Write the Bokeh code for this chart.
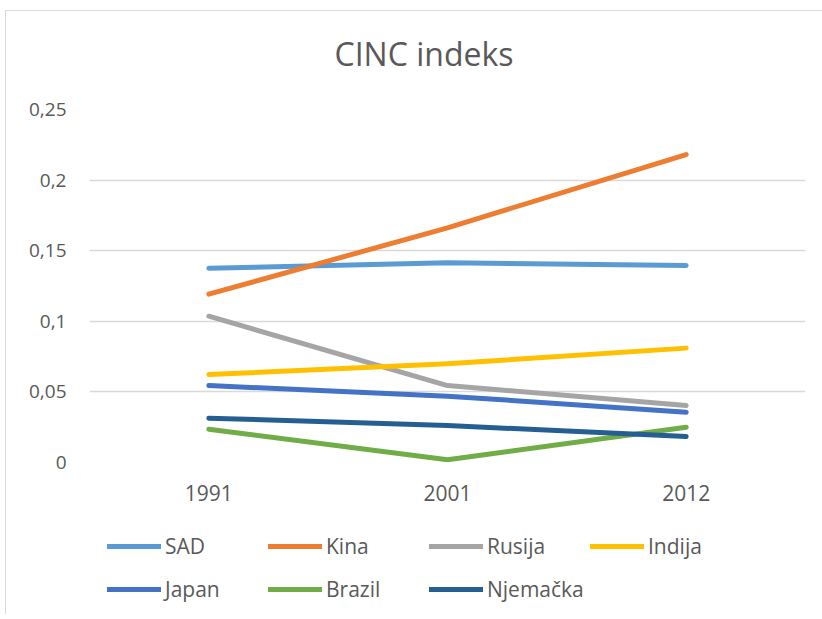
from bokeh.plotting import figure
from bokeh.models import FactorRange, Range1d, FixedTicker, Legend, LegendItem, Div
from bokeh.layouts import column
from bokeh.embed import file_html
from bokeh.resources import INLINE

title_text = "CINC indeks"
years = ["1991", "2001", "2012"]
series_names = ["SAD", "Kina", "Rusija", "Indija", "Japan", "Brazil", "Njemačka"]
sad = [0.1376, 0.1414, 0.1395]
kina = [0.1192, 0.1662, 0.2181]
rusija = [0.1036, 0.0545, 0.0404]
indija = [0.0623, 0.0699, 0.0810]
japan = [0.0545, 0.0470, 0.0356]
brazil = [0.0236, 0.0020, 0.0250]
njemacka = [0.0314, 0.0262, 0.0184]
colors = ["#5B9BD5", "#ED7D31", "#A5A5A5", "#FFC000", "#4472C4", "#70AD47", "#255E91"]
y_ticks = [0, 0.05, 0.1, 0.15, 0.2, 0.25]
y_tick_labels = ["0", "0,05", "0,1", "0,15", "0,2", "0,25"]

values = [sad, kina, rusija, indija, japan, brazil, njemacka]

FONT = "Open Sans"
TXT = "#595959"

title = Div(text=title_text, width=812, height=62,
            styles={"font-family": FONT, "font-size": "32px", "color": TXT,
                    "text-align": "center", "line-height": "48px",
                    "padding-top": "14px", "padding-left": "14px",
                    "box-sizing": "border-box", "white-space": "nowrap"})

p = figure(x_range=FactorRange(*years, range_padding=0), y_range=Range1d(0, 0.25),
           width=812, height=435, output_backend="svg", toolbar_location=None,
           min_border_left=83, min_border_right=13, min_border_top=26, min_border_bottom=56)
p.outline_line_color = None

p.xgrid.grid_line_color = None
p.ygrid.grid_line_color = "#d9d9d9"
p.ygrid.grid_line_width = 1.5
p.yaxis.ticker = FixedTicker(ticks=y_ticks)
p.yaxis.major_label_overrides = {t: l for t, l in zip(y_ticks, y_tick_labels)}
for ax in (p.xaxis[0], p.yaxis[0]):
    ax.axis_line_color = None
    ax.major_tick_line_color = None
    ax.minor_tick_line_color = None
    ax.major_label_text_font = FONT
    ax.major_label_text_color = TXT
p.yaxis.major_label_text_font_size = "19px"
p.yaxis.major_label_standoff = 17
p.xaxis.major_label_text_font_size = "21px"
p.xaxis.major_label_standoff = 16

for vals, c in zip(values, colors):
    p.line(years, vals, line_color=c, line_width=5, line_cap="round", line_join="round")

# legend strip below the chart, with matching line styles (samples kept off-canvas)
lg = figure(width=812, height=96, output_backend="svg", toolbar_location=None,
            x_range=Range1d(0, 1), y_range=Range1d(0, 1),
            min_border_left=0, min_border_right=0, min_border_top=0, min_border_bottom=0)
lg.axis.visible = False
lg.grid.visible = False
lg.outline_line_color = None
items = []
for name, c in zip(series_names, colors):
    r = lg.line(x=[5, 6], y=[5, 5], line_color=c, line_width=5, line_cap="round")
    items.append(LegendItem(label=name, renderers=[r]))
legend = Legend(items=items, orientation="horizontal", ncols=4,
                location=(18, 5), label_text_font=FONT, label_text_font_size="21px",
                label_text_color=TXT, glyph_width=54, glyph_height=20, label_standoff=4,
                label_width=100, label_height=40, spacing=3, padding=0,
                margin=0, border_line_color=None, background_fill_alpha=0)
lg.add_layout(legend)

layout = column(title, p, lg, spacing=0,
                styles={"margin-left": "5px", "margin-top": "10px",
                        "border-left": "1px solid #d9d9d9", "border-top": "1px solid #d9d9d9"})

open("out.html", "w").write(file_html(layout, INLINE))
